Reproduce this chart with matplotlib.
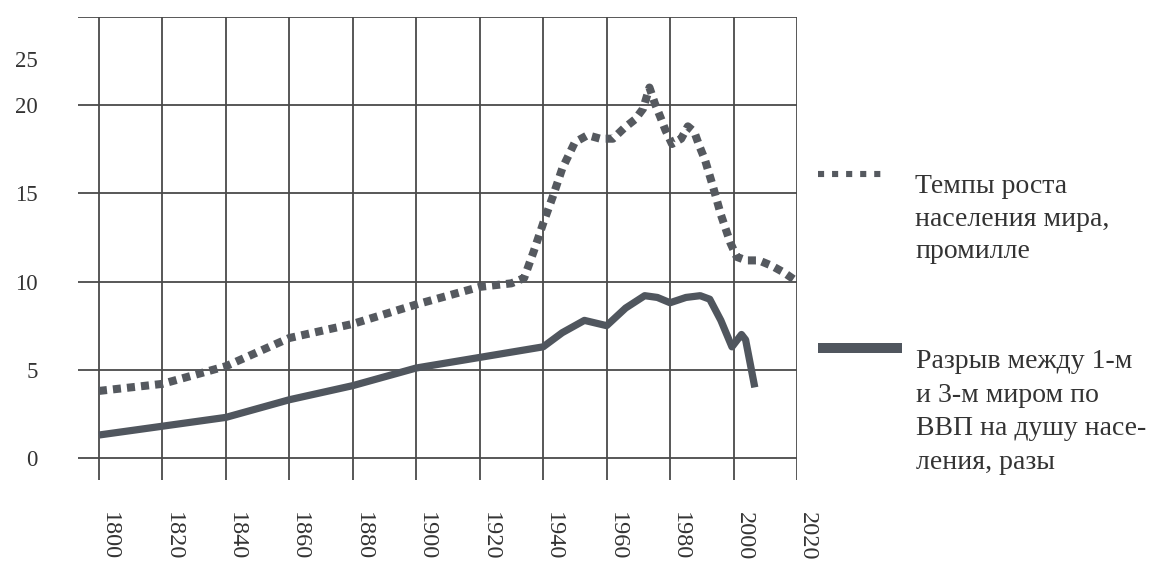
import matplotlib

matplotlib.use("Agg")
import matplotlib.pyplot as plt
from matplotlib.lines import Line2D

plt.rcParams["font.family"] = ["Liberation Serif", "DejaVu Serif"]

# population growth rate, per mille (dotted)
POP_YEARS = [1800, 1820, 1840, 1860, 1880, 1900, 1920, 1930, 1934, 1937, 1940, 1943,
             1946, 1950, 1954, 1958, 1962, 1965.5, 1969, 1971.5, 1973.5, 1975.2, 1977,
             1978.5, 1980.6, 1983.5, 1985.6, 1987.6, 1989.2, 1991, 1993.5, 1996, 1999,
             2001, 2004, 2008, 2012, 2016, 2020]
POP_VALUES = [3.8, 4.2, 5.2, 6.8, 7.6, 8.7, 9.7, 9.9, 10.2, 11.7, 13.3, 14.8,
              16.4, 17.9, 18.3, 18.1, 18.1, 18.7, 19.2, 19.8, 21.0, 20.1, 19.3,
              18.6, 17.8, 18.1, 18.8, 18.5, 17.7, 16.9, 15.4, 13.8, 12.2,
              11.4, 11.2, 11.2, 10.9, 10.5, 10.0]

# GDP per capita gap between 1st and 3rd world, times (solid)
GAP_YEARS = [1800, 1820, 1840, 1860, 1880, 1900, 1920, 1940, 1946, 1953, 1960, 1966,
             1972, 1976, 1980, 1985, 1989.5, 1992.5, 1996, 1999.5, 2002.5, 2003.8,
             2005.2, 2006.7]
GAP_VALUES = [1.3, 1.8, 2.3, 3.3, 4.1, 5.1, 5.7, 6.3, 7.1, 7.8, 7.5, 8.5,
              9.2, 9.1, 8.8, 9.1, 9.2, 9.0, 7.8, 6.3, 7.0, 6.7,
              5.4, 4.0]

X_TICKS = list(range(1800, 2021, 20))
Y_GRID = [0, 5, 10, 15, 20, 25]
Y_LABEL_POS = [0, 5, 10, 15, 20, 22.6]
Y_LABELS = ["0", "5", "10", "15", "20", "25"]

POP_LABEL = ["Темпы роста", "населения мира,", "промилле"]
GAP_LABEL = ["Разрыв между 1-м", "и 3-м миром по", "ВВП на душу насе-", "ления, разы"]

GRID_COLOR = "#4a4a4a"
DOT_COLOR = "#55595f"
LINE_COLOR = "#50565e"
TEXT_COLOR = "#333333"

W, H = 1157, 587
fig = plt.figure(figsize=(W / 100, H / 100), dpi=100)
ax = fig.add_axes([78 / W, 1 - 480 / H, (797 - 78) / W, (480 - 17) / H])

x_left, y_bottom = 1793.4, -1.25
ax.set_xlim(x_left, 2020)
ax.set_ylim(y_bottom, 25)
for s in ax.spines.values():
    s.set_visible(False)

ax.hlines(Y_GRID, x_left, 2020, color=GRID_COLOR, lw=1.3, zorder=1)
ax.vlines(X_TICKS, y_bottom, 25, color=GRID_COLOR, lw=1.3, zorder=1)

ax.plot(POP_YEARS, POP_VALUES, color=DOT_COLOR, lw=5.8, dashes=(1, 0.75),
        dash_capstyle="butt", zorder=3)
ax.plot(GAP_YEARS, GAP_VALUES, color=LINE_COLOR, lw=5.2, solid_joinstyle="round",
        solid_capstyle="butt", zorder=3)

ax.set_yticks(Y_LABEL_POS)
ax.set_yticklabels(Y_LABELS, fontsize=16.5)
ax.tick_params(axis="y", length=0, pad=29, colors=TEXT_COLOR)
ax.set_xticks(X_TICKS)
ax.set_xticklabels([str(x) for x in X_TICKS], rotation=-90, fontsize=17.5)
ax.tick_params(axis="x", length=0, pad=23, colors=TEXT_COLOR)
for lab in ax.get_xticklabels():
    lab.set_horizontalalignment("left")

# legend drawn by hand
fig.add_artist(Line2D([818 / W, 882 / W], [1 - 174 / H] * 2, color=DOT_COLOR, lw=4.4,
                      dashes=(1, 1.3), dash_capstyle="butt"))
fig.add_artist(Line2D([818 / W, 902 / W], [1 - 348 / H] * 2, color=LINE_COLOR, lw=7.2,
                      solid_capstyle="butt"))

for i, line in enumerate(POP_LABEL):
    fig.text(915 / W, 1 - (193 + 32.5 * i) / H, line, fontsize=20, va="baseline",
             color=TEXT_COLOR)
for i, line in enumerate(GAP_LABEL):
    fig.text(916 / W, 1 - (368 + 33.7 * i) / H, line, fontsize=20, va="baseline",
             color=TEXT_COLOR)

fig.savefig("out.png", dpi=100)
